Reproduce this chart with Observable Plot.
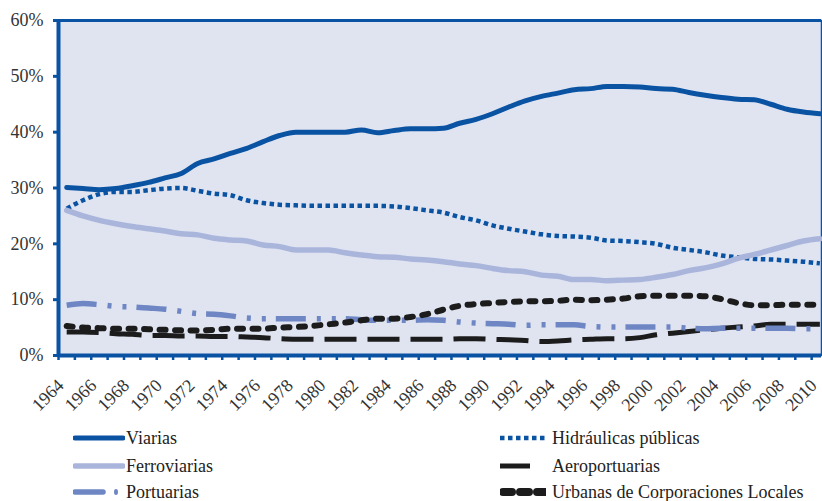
<!DOCTYPE html>
<html>
<head>
<meta charset="utf-8">
<script src="https://cdn.jsdelivr.net/npm/d3@7"></script>
<script src="https://cdn.jsdelivr.net/npm/@observablehq/plot@0.6"></script>
<style>
  html, body { margin: 0; padding: 0; background: #fff; }
  #wrap { position: relative; width: 822px; height: 501px; overflow: hidden; }
  #chart svg { display: block; }
  #legend { position: absolute; left: 0; top: 415px; width: 822px; height: 86px;
    font-family: "Liberation Serif", "DejaVu Serif", serif; font-size: 18px; color: #222; }
  .item { position: absolute; height: 22px; line-height: 22px; white-space: nowrap; }
  .item svg { position: absolute; top: 0; }
  .item span { position: absolute; top: 0; }
</style>
</head>
<body>
<div id="wrap">
  <div id="chart"></div>
  <div id="legend"></div>
</div>
<script>
const years = d3.range(1964, 2011);
const yTicks = [0, 10, 20, 30, 40, 50, 60];
const xLabelYears = d3.range(1964, 2011, 2);

const viarias = [30.1,29.9,29.7,29.9,30.4,31.0,31.8,32.6,34.4,35.2,36.2,37.1,38.3,39.4,40.0,40.0,40.0,40.0,40.4,39.9,40.3,40.6,40.6,40.7,41.6,42.3,43.3,44.5,45.6,46.4,47.0,47.6,47.8,48.2,48.2,48.1,47.8,47.7,47.1,46.6,46.2,45.9,45.8,45.0,44.1,43.6,43.3];
const hidraulicas = [26.3,27.8,28.9,29.3,29.3,29.6,29.9,30.0,29.5,29.0,28.7,27.8,27.3,27.0,26.9,26.8,26.8,26.8,26.8,26.8,26.7,26.4,26.0,25.6,24.8,24.2,23.3,22.7,22.2,21.7,21.4,21.3,21.1,20.6,20.5,20.3,20.0,19.3,18.9,18.5,17.9,17.6,17.3,17.2,17.0,16.8,16.5];
const ferroviarias = [26.0,25.0,24.2,23.6,23.1,22.7,22.3,21.8,21.6,21.0,20.7,20.5,19.8,19.5,18.9,18.9,18.9,18.4,18.0,17.7,17.6,17.3,17.1,16.8,16.4,16.1,15.6,15.2,15.0,14.4,14.2,13.6,13.6,13.4,13.5,13.6,14.0,14.5,15.2,15.7,16.4,17.4,18.1,18.9,19.7,20.5,20.9];
const aeroportuarias = [4.2,4.2,4.1,3.9,3.8,3.6,3.6,3.5,3.5,3.4,3.4,3.3,3.2,3.0,2.9,2.9,2.9,2.9,2.9,2.9,2.9,2.9,2.9,2.9,3.0,3.0,2.9,2.8,2.7,2.5,2.6,2.8,2.9,3.0,3.0,3.2,3.7,4.0,4.3,4.6,4.9,5.1,5.3,5.6,5.6,5.6,5.6];
const portuarias = [9.0,9.3,9.1,8.8,8.7,8.5,8.3,7.9,7.5,7.4,7.1,6.7,6.6,6.6,6.6,6.6,6.6,6.6,6.4,6.3,6.3,6.3,6.4,6.3,6.0,5.8,5.7,5.6,5.4,5.5,5.5,5.5,5.2,5.1,5.1,5.1,5.1,5.1,4.9,4.8,4.9,4.9,4.9,4.9,4.9,4.8,4.8];
const urbanas = [5.3,5.0,4.9,4.8,4.8,4.7,4.6,4.5,4.5,4.6,4.8,4.8,4.8,5.0,5.1,5.3,5.6,5.9,6.3,6.6,6.6,6.9,7.4,8.2,8.9,9.2,9.4,9.6,9.7,9.7,9.8,10.0,9.9,10.0,10.2,10.6,10.7,10.7,10.7,10.6,10.1,9.4,9.0,9.0,9.1,9.1,9.1];

const BLUE = "#0a53a3";
const LIGHT = "#aab5dc";
const MID = "#6e86c4";
const BLACK = "#1c1c1c";
const FONT = "'Liberation Serif', 'DejaVu Serif', serif";

const series = [
  {name: "Viarias", values: viarias, stroke: BLUE, width: 5, dash: null, cap: "round"},
  {name: "Hidráulicas públicas", values: hidraulicas, stroke: BLUE, width: 4.5, dash: "4.5,3.5", cap: "butt"},
  {name: "Ferroviarias", values: ferroviarias, stroke: LIGHT, width: 5.5, dash: null, cap: "round"},
  {name: "Aeroportuarias", values: aeroportuarias, stroke: BLACK, width: 5, dash: "32,11", cap: "butt"},
  {name: "Portuarias", values: portuarias, stroke: MID, width: 5.5, dash: "30,11,4,11,4,10", cap: "butt"},
  {name: "Urbanas de Corporaciones Locales", values: urbanas, stroke: BLACK, width: 6, dash: "6,9.5", cap: "round"}
];

const plot = Plot.plot({
  width: 822,
  height: 415,
  marginLeft: 58,
  marginRight: 1,
  marginTop: 20,
  marginBottom: 60,
  style: {fontFamily: FONT, background: "#fff"},
  x: {domain: [1963.5, 2010.1], axis: null},
  y: {domain: [0, 60], axis: null},
  marks: [
    Plot.frame({fill: "#e0e4f1", stroke: BLUE, strokeWidth: 1.5}),
    Plot.axisY({ticks: yTicks, tickSize: 5, stroke: BLUE, strokeWidth: 3, text: null}),
    Plot.axisY({ticks: yTicks, tickSize: 0, tickPadding: 15, tickFormat: d => d + "%", fill: "#333", fontSize: 18, fontFamily: FONT}),
    Plot.axisX({ticks: years.map(y => y - 0.5), tickSize: 5, stroke: BLUE, strokeWidth: 2.5, text: null, anchor: "bottom"}),
    Plot.ruleY([60], {stroke: BLUE, strokeWidth: 3}),
    Plot.ruleY([0], {stroke: BLUE, strokeWidth: 4}),
    Plot.ruleX([1963.5], {stroke: BLUE, strokeWidth: 4}),
    Plot.text(xLabelYears, {x: d => d, frameAnchor: "bottom", text: d => String(d), rotate: -45,
      textAnchor: "end", lineAnchor: "middle", dx: -6, dy: 27, fontSize: 18, fill: "#333", fontFamily: FONT}),
    ...series.map(s => Plot.line(years, {
      x: d => d,
      y: (d, i) => s.values[i],
      stroke: s.stroke,
      strokeWidth: s.width,
      strokeDasharray: s.dash,
      strokeLinecap: s.cap,
      strokeLinejoin: "round",
      curve: "monotone-x"
    }))
  ]
});
document.getElementById("chart").appendChild(plot);

const legendItems = [
  {s: series[0], left: 73, top: 12, sw: 52, tx: 126},
  {s: series[2], left: 73, top: 40, sw: 52, tx: 126},
  {s: series[4], left: 73, top: 66, sw: 52, tx: 126},
  {s: series[1], left: 500, top: 12, sw: 46, tx: 552},
  {s: series[3], left: 500, top: 40, sw: 46, tx: 552},
  {s: series[5], left: 500, top: 66, sw: 46, tx: 552}
];
const legend = document.getElementById("legend");
for (const it of legendItems) {
  const div = document.createElement("div");
  div.className = "item";
  div.style.left = it.left + "px";
  div.style.top = it.top + "px";
  const s = it.s;
  let path;
  if (s.name === "Portuarias") {
    path = `<line x1="2" y1="11" x2="30" y2="11" stroke="${s.stroke}" stroke-width="${s.width}" stroke-linecap="round"/>
            <ellipse cx="43" cy="11" rx="2" ry="3" fill="${s.stroke}"/>`;
  } else if (s.name === "Aeroportuarias") {
    path = `<line x1="0" y1="11" x2="30" y2="11" stroke="${s.stroke}" stroke-width="${s.width}" stroke-linecap="butt"/>`;
  } else if (s.name.startsWith("Urbanas")) {
    path = `<line x1="3" y1="11" x2="46" y2="11" stroke="${s.stroke}" stroke-width="${s.width + 2}" stroke-linecap="round" stroke-dasharray="9,8"/>`;
  } else if (s.dash) {
    path = `<line x1="0" y1="11" x2="46" y2="11" stroke="${s.stroke}" stroke-width="${s.width}" stroke-dasharray="${s.dash}"/>`;
  } else {
    path = `<line x1="2" y1="11" x2="${it.sw - 2}" y2="11" stroke="${s.stroke}" stroke-width="${s.width}" stroke-linecap="round"/>`;
  }
  div.innerHTML = `<svg width="${it.sw}" height="22" style="left:0">${path}</svg><span style="left:${it.tx - it.left}px">${s.name}</span>`;
  legend.appendChild(div);
}
</script>
</body>
</html>
